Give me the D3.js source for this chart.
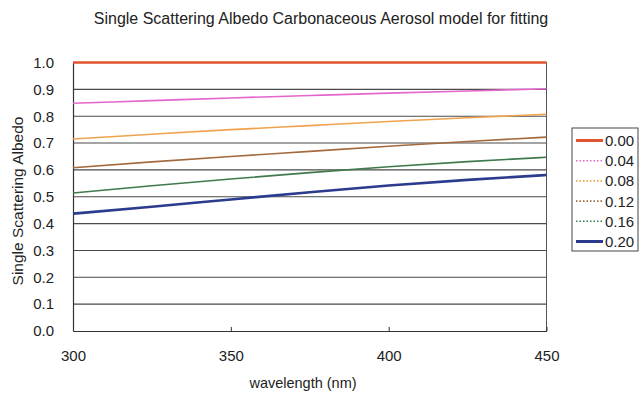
<!DOCTYPE html>
<html>
<head>
<meta charset="utf-8">
<script src="https://cdn.jsdelivr.net/npm/d3@7"></script>
<style>
  html, body { margin: 0; padding: 0; background: #fff; }
  svg { display: block; font-family: "Liberation Sans", Arial, sans-serif; }
</style>
</head>
<body>
<svg id="chart" width="639" height="393"></svg>
<script>
// Single scattering albedo vs wavelength for several absorption levels
const wavelengths = [300, 325, 350, 375, 400, 425, 450];
const seriesNames = ["0.00", "0.04", "0.08", "0.12", "0.16", "0.20"];
const ssa000 = [1.000, 1.000, 1.000, 1.000, 1.000, 1.000, 1.000];
const ssa004 = [0.848, 0.858, 0.868, 0.877, 0.886, 0.894, 0.902];
const ssa008 = [0.715, 0.733, 0.750, 0.765, 0.780, 0.794, 0.807];
const ssa012 = [0.608, 0.630, 0.650, 0.669, 0.688, 0.706, 0.722];
const ssa016 = [0.514, 0.541, 0.566, 0.590, 0.612, 0.631, 0.647];
const ssa020 = [0.437, 0.463, 0.490, 0.517, 0.542, 0.563, 0.581];
const xTicks = [300, 350, 400, 450];
const yTicks = [0.0, 0.1, 0.2, 0.3, 0.4, 0.5, 0.6, 0.7, 0.8, 0.9, 1.0];

const seriesValues = [ssa000, ssa004, ssa008, ssa012, ssa016, ssa020];
const colors = ["#e2532f", "#e466cc", "#f0a24e", "#a46a3e", "#3f7a4c", "#2b3b8e"];
const widths = [2.5, 1.6, 1.6, 1.6, 1.6, 2.6];
const legendDash = [null, "1.5,2", "1.5,2", "1.5,2", "1.5,2", null];

const svg = d3.select("#chart");
const plot = { left: 73, right: 546.5, top: 62.5, bottom: 331 };

const x = d3.scaleLinear().domain([300, 450]).range([plot.left, plot.right]);
const y = d3.scaleLinear().domain([0, 1]).range([plot.bottom, plot.top]);

// Title
svg.append("text")
  .attr("x", 321).attr("y", 24)
  .attr("text-anchor", "middle")
  .attr("font-size", 16)
  .attr("fill", "#222")
  .text("Single Scattering Albedo Carbonaceous Aerosol model for fitting");

// Horizontal gridlines
svg.append("g")
  .selectAll("line")
  .data(yTicks.filter(d => d > 0))
  .join("line")
  .attr("x1", plot.left).attr("x2", plot.right)
  .attr("y1", d => y(d)).attr("y2", d => y(d))
  .attr("stroke", "#4a4a4a").attr("stroke-width", 1.1);

// Right border of the plot area
svg.append("line")
  .attr("x1", plot.right).attr("x2", plot.right)
  .attr("y1", plot.top).attr("y2", plot.bottom)
  .attr("stroke", "#555").attr("stroke-width", 1);

// Y axis
const yAxis = svg.append("g")
  .attr("transform", `translate(${plot.left},0)`)
  .call(d3.axisLeft(y).tickValues(yTicks).tickFormat(d3.format(".1f")).tickSize(0).tickPadding(19));
yAxis.select(".domain").attr("stroke", "#333").attr("stroke-width", 1.2);
yAxis.selectAll("text").attr("font-size", 15).attr("fill", "#222")
  .attr("font-family", "Liberation Sans, Arial, sans-serif");

// X axis
const xAxis = svg.append("g")
  .attr("transform", `translate(0,${plot.bottom})`)
  .call(d3.axisBottom(x).tickValues(xTicks).tickFormat(d3.format("d")).tickSizeInner(-4).tickSizeOuter(0).tickPadding(19));
xAxis.select(".domain").attr("stroke", "#333").attr("stroke-width", 1.2);
xAxis.selectAll(".tick line").attr("stroke", "#333");
xAxis.selectAll("text").attr("font-size", 15).attr("fill", "#222")
  .attr("font-family", "Liberation Sans, Arial, sans-serif");

// Axis titles
svg.append("text")
  .attr("x", 303).attr("y", 388)
  .attr("text-anchor", "middle")
  .attr("font-size", 14.5).attr("fill", "#222")
  .text("wavelength (nm)");

svg.append("text")
  .attr("transform", "translate(23,201) rotate(-90)")
  .attr("text-anchor", "middle")
  .attr("font-size", 15.5).attr("fill", "#222")
  .text("Single Scattering Albedo");

// Series lines
const line = d3.line()
  .x((d, i) => x(wavelengths[i]))
  .y(d => y(d))
  .curve(d3.curveMonotoneX);

svg.append("g")
  .selectAll("path")
  .data(seriesValues)
  .join("path")
  .attr("d", d => line(d))
  .attr("fill", "none")
  .attr("stroke", (d, i) => colors[i])
  .attr("stroke-width", (d, i) => widths[i]);

// Legend
const legend = svg.append("g");
legend.append("rect")
  .attr("x", 572).attr("y", 128)
  .attr("width", 66).attr("height", 123)
  .attr("fill", "#fff").attr("stroke", "#444").attr("stroke-width", 1);

const rows = legend.selectAll("g.row")
  .data(seriesNames)
  .join("g")
  .attr("class", "row")
  .attr("transform", (d, i) => `translate(0,${140.5 + i * 20.2})`);

rows.append("line")
  .attr("x1", 576).attr("x2", 603)
  .attr("y1", 0).attr("y2", 0)
  .attr("stroke", (d, i) => colors[i])
  .attr("stroke-width", (d, i) => i === 0 || i === 5 ? 3 : 1.6)
  .attr("stroke-dasharray", (d, i) => legendDash[i]);

rows.append("text")
  .attr("x", 605).attr("y", 5.5)
  .attr("font-size", 15).attr("fill", "#222")
  .text(d => d);
</script>
</body>
</html>
